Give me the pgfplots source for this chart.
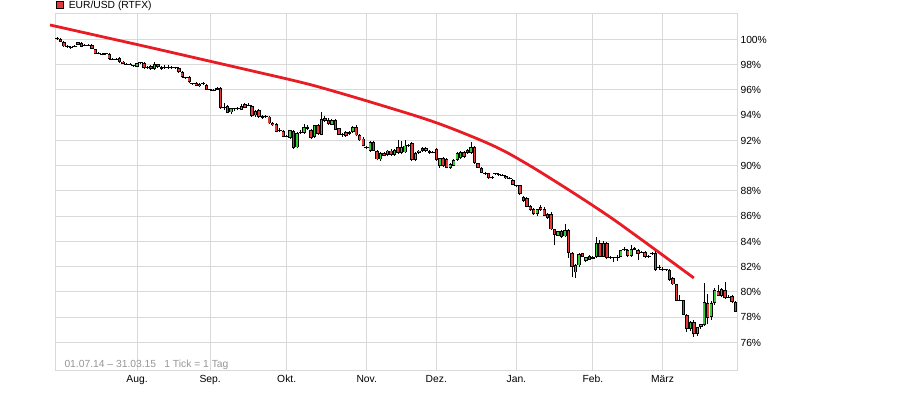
\documentclass[border=0pt]{standalone}
\usepackage{pgfplots}
\pgfplotsset{compat=1.18}
\usepackage{pgfplotstable}
\usepackage{fontspec}
\setmainfont{Liberation Sans}
\definecolor{cred}{RGB}{232,56,56}
\definecolor{cgreen}{RGB}{52,204,52}
\definecolor{tline}{RGB}{232,28,36}
\definecolor{gridc}{RGB}{217,217,217}
\definecolor{foot}{RGB}{150,150,150}

\pgfplotstableread{
i o h l c
0 100.10 100.20 99.98 100.10
1 100.02 100.08 99.80 99.82
2 99.80 99.86 99.40 99.45
3 99.45 99.55 99.35 99.45
4 99.40 99.50 99.28 99.40
5 99.48 99.58 99.40 99.48
6 99.78 99.84 99.58 99.60
7 99.70 99.78 99.38 99.42
8 99.55 99.62 99.46 99.55
9 99.55 99.64 99.47 99.55
10 99.55 99.62 99.22 99.25
11 99.22 99.28 98.82 98.86
12 98.90 98.98 98.82 98.90
13 98.85 98.94 98.75 98.85
14 98.86 98.94 98.78 98.86
15 98.85 98.90 98.40 98.45
16 98.45 98.55 98.38 98.45
17 98.45 98.52 98.36 98.45
18 98.50 98.58 98.15 98.20
19 98.25 98.30 98.02 98.05
20 98.05 98.12 97.98 98.05
21 98.08 98.12 97.95 98.00
22 97.92 98.00 97.82 97.92
23 97.85 98.15 97.80 98.10
24 98.15 98.25 98.05 98.15
25 98.12 98.18 97.68 97.72
26 97.80 97.88 97.70 97.80
27 97.90 97.95 97.60 97.65
28 97.65 98.20 97.60 98.05
29 98.02 98.08 97.78 97.82
30 97.82 97.88 97.62 97.66
31 97.80 97.95 97.65 97.80
32 97.80 97.95 97.65 97.80
33 97.78 97.88 97.68 97.78
34 97.75 97.85 97.65 97.75
35 97.75 97.80 97.38 97.42
36 97.42 97.48 96.95 97.00
37 96.95 97.05 96.88 96.95
38 97.00 97.08 96.58 96.62
39 96.50 96.58 96.42 96.50
40 96.55 96.60 96.28 96.32
41 96.28 96.52 96.22 96.46
42 96.50 96.62 96.40 96.50
43 96.42 96.48 95.98 96.02
44 96.00 96.08 95.92 96.00
45 95.98 96.06 95.90 95.98
46 96.00 96.22 95.96 96.16
47 96.16 96.22 94.52 94.58
48 94.60 94.95 94.40 94.60
49 94.70 94.78 94.15 94.20
50 94.22 94.60 94.10 94.55
51 94.50 94.60 94.35 94.50
52 94.52 94.62 94.40 94.52
53 94.45 94.90 94.40 94.70
54 94.88 94.95 94.55 94.60
55 94.80 95.00 94.70 94.80
56 94.75 94.85 93.90 93.95
57 93.98 94.40 93.85 94.35
58 94.40 94.50 93.80 93.85
59 93.95 94.00 93.72 93.80
60 93.92 94.02 93.80 93.92
61 93.90 93.95 93.30 93.35
62 93.40 93.48 93.15 93.20
63 93.30 93.35 92.65 92.70
64 92.80 92.95 92.68 92.80
65 92.75 92.85 92.25 92.30
66 92.35 92.45 92.25 92.35
67 92.20 92.85 92.10 92.80
68 92.75 92.85 91.35 91.40
69 91.45 92.65 91.40 92.60
70 92.70 92.80 92.55 92.62
71 92.60 93.30 92.55 93.10
72 93.05 93.20 92.85 92.90
73 92.80 92.90 92.15 92.20
74 92.30 93.25 92.20 93.20
75 93.20 93.30 92.45 92.50
76 92.45 94.25 92.40 93.70
77 93.80 93.95 93.50 93.55
78 93.60 93.75 93.25 93.30
79 93.25 93.70 93.20 93.60
80 93.60 93.70 92.80 92.85
81 92.95 93.00 92.40 92.45
82 92.50 92.60 92.30 92.50
83 92.65 92.75 92.30 92.35
84 92.55 92.75 92.45 92.70
85 92.65 93.15 92.60 93.05
86 93.10 93.20 92.35 92.40
87 92.40 92.50 91.95 92.00
88 92.15 92.25 91.55 91.60
89 91.45 91.55 91.35 91.45
90 91.20 91.95 91.10 91.85
91 91.85 91.95 91.15 91.20
92 91.15 91.25 90.45 90.50
93 90.50 91.10 90.40 91.00
94 91.00 91.10 90.75 90.80
95 90.85 91.25 90.75 91.20
96 91.20 91.30 90.80 90.85
97 90.85 91.30 90.80 91.25
98 91.45 92.00 90.95 91.00
99 91.00 91.95 90.95 91.50
100 91.05 92.00 91.00 91.60
101 91.60 91.70 91.50 91.60
102 91.80 91.90 90.40 90.45
103 90.45 91.05 90.35 91.00
104 91.00 91.25 90.95 91.20
105 91.40 91.50 91.10 91.15
106 91.15 91.45 91.10 91.40
107 91.15 91.25 90.95 91.00
108 91.05 91.18 90.98 91.12
109 91.30 91.40 90.40 90.45
110 89.95 90.65 89.85 90.60
111 90.60 90.70 89.90 89.95
112 90.50 90.60 89.80 89.85
113 89.85 90.20 89.75 90.15
114 90.00 90.50 89.95 90.45
115 90.45 91.05 90.40 91.00
116 90.60 91.15 90.55 91.10
117 91.10 91.20 90.65 90.70
118 91.25 91.35 90.95 91.00
119 91.00 91.90 90.95 91.50
120 91.50 91.55 90.15 90.20
121 90.20 90.25 89.80 89.85
122 89.85 89.90 89.40 89.45
123 89.40 89.50 89.30 89.40
124 89.40 89.45 88.95 89.00
125 89.00 89.18 88.95 89.12
126 89.35 89.42 89.25 89.35
127 89.32 89.40 89.22 89.32
128 89.25 89.35 89.15 89.25
129 89.20 89.28 88.98 89.02
130 89.00 89.08 88.92 89.00
131 88.90 88.98 88.45 88.50
132 88.40 88.48 88.35 88.40
133 88.45 88.50 87.70 87.75
134 87.50 87.60 87.15 87.20
135 87.45 87.55 86.70 86.75
136 86.80 86.90 86.45 86.50
137 86.60 86.65 86.10 86.15
138 86.15 86.60 86.05 86.55
139 86.75 86.90 86.45 86.50
140 86.60 86.70 86.00 86.05
141 86.20 86.25 85.80 85.85
142 86.20 86.30 84.90 84.95
143 84.95 85.00 83.70 84.50
144 84.45 84.85 84.40 84.80
145 84.80 84.88 84.30 84.35
146 84.40 85.40 84.35 84.90
147 84.90 84.95 82.70 83.10
148 83.10 83.20 81.15 82.00
149 81.55 82.20 81.10 82.15
150 82.10 83.05 82.00 83.00
151 83.05 83.10 82.75 82.80
152 82.45 82.80 82.35 82.75
153 82.85 82.95 82.50 82.55
154 82.65 82.85 82.60 82.80
155 82.75 84.35 82.70 83.85
156 83.85 84.10 82.75 82.80
157 82.80 84.00 82.75 83.85
158 83.85 83.95 82.65 82.70
159 82.75 82.85 82.65 82.75
160 82.70 82.80 82.35 82.70
161 82.75 82.95 82.45 82.75
162 82.80 83.35 82.75 83.30
163 83.40 83.55 83.25 83.40
164 83.30 83.40 82.80 82.85
165 82.85 83.70 82.80 83.40
166 83.35 83.60 83.30 83.45
167 83.30 83.40 82.50 83.00
168 83.15 83.25 83.05 83.15
169 83.15 83.25 82.70 82.75
170 82.80 82.90 82.70 82.80
171 83.00 83.15 82.95 83.10
172 83.10 83.25 81.70 81.75
173 81.90 82.10 81.75 81.90
174 81.80 81.95 81.70 81.80
175 81.75 81.85 81.68 81.75
176 81.75 81.80 80.90 80.95
177 81.10 81.15 80.55 80.60
178 80.60 80.65 79.25 79.30
179 79.35 79.75 79.25 79.35
180 79.35 79.40 78.15 78.20
181 78.20 78.25 76.85 77.10
182 77.10 77.70 76.90 77.65
183 77.65 77.75 76.45 76.65
184 76.65 77.25 76.55 77.20
185 77.20 77.50 77.10 77.45
186 77.40 80.70 77.30 79.20
187 79.15 79.85 77.50 77.95
188 78.00 79.30 77.80 79.15
189 79.15 80.35 78.95 80.15
190 80.05 80.55 79.65 79.70
191 79.70 80.30 79.60 80.20
192 80.15 80.80 79.45 79.55
193 79.60 79.75 79.50 79.60
194 79.70 79.80 79.15 79.20
195 79.20 79.25 78.40 78.45
}\candles

\begin{document}
\begin{tikzpicture}
\path[use as bounding box] (0,0) rectangle (902bp,394bp);
\begin{axis}[
  at={(55bp,24bp)}, anchor=south west,
  scale only axis, width=682bp, height=356bp,
  xmin=-0.575, xmax=195.4, ymin=73.82, ymax=102.02,
  clip=false,
  axis line style={draw=gridc, line width=1bp},
  grid=major, major grid style={draw=gridc, line width=1bp},
  major tick length=0pt,
  xtick={23,44,66,89,109,132,154,174},
  xticklabels={Aug.,Sep.,Okt.,Nov.,Dez.,Jan.,Feb.,März},
  ytick={76,78,80,82,84,86,88,90,92,94,96,98,100},
  yticklabels={76\%,78\%,80\%,82\%,84\%,86\%,88\%,90\%,92\%,94\%,96\%,98\%,100\%},
  yticklabel pos=right,
  tick label style={font=\fontsize{10.3bp}{12bp}\selectfont, text=black},
  xticklabel style={text height=7.2bp, yshift=-1.8bp},
  legend style={at={(0,1)}, anchor=west, xshift=1bp, yshift=8.9bp,
    draw=none, fill=none, inner sep=0pt, nodes={inner sep=0pt},
    font=\fontsize{10.3bp}{12bp}\selectfont, legend cell align=left},
]
\addlegendimage{legend image code/.code={\draw[black, line width=0.8bp, fill=cred] (0bp,-3.6bp) rectangle (7.2bp,3.6bp); \path[draw=none, fill=none] (7.2bp,0bp) rectangle (12.2bp,0.1bp);}}
\addlegendentry{EUR/USD (RTFX)}

% trend line
\addplot[tline, line width=2.8bp, smooth, tension=0.6, forget plot] coordinates {
(-2.01,101.15) (12.36,100.26) (26.72,99.37) (41.09,98.46) (55.46,97.55) (69.83,96.63)
(78.45,95.99) (92.82,94.82) (107.18,93.58) (118.1,92.44) (127.3,91.33) (135.3,90.10)
(142.5,88.88) (150.3,87.51) (158.9,85.94) (166.1,84.52) (174.7,82.79) (183.0,81.11)};

% wicks
\addplot[draw=none, mark=none, forget plot,
  error bars/.cd, y dir=plus, y explicit, error mark=none,
  error bar style={draw=black, line width=1bp}]
  table[x=i, y=l, y error plus expr={\thisrow{h}-\thisrow{l}}] {\candles};

% red bodies
\addplot[draw=none, mark=none, forget plot,
  restrict expr to domain={\thisrow{o}-\thisrow{c}}{0.001:100},
  error bars/.cd, y dir=plus, y explicit, error mark=none,
  error bar style={draw=black, line width=3.4bp}]
  table[x=i, y=c, y error plus expr={\thisrow{o}-\thisrow{c}}] {\candles};
\addplot[draw=none, mark=none, forget plot,
  restrict expr to domain={\thisrow{o}-\thisrow{c}}{0.18:100},
  error bars/.cd, y dir=plus, y explicit, error mark=none,
  error bar style={draw=cred, line width=1.6bp, shorten <=0.9bp, shorten >=0.9bp}]
  table[x=i, y=c, y error plus expr={\thisrow{o}-\thisrow{c}}] {\candles};

% green bodies
\addplot[draw=none, mark=none, forget plot,
  restrict expr to domain={\thisrow{c}-\thisrow{o}}{0.001:100},
  error bars/.cd, y dir=plus, y explicit, error mark=none,
  error bar style={draw=black, line width=3.4bp}]
  table[x=i, y=o, y error plus expr={\thisrow{c}-\thisrow{o}}] {\candles};
\addplot[draw=none, mark=none, forget plot,
  restrict expr to domain={\thisrow{c}-\thisrow{o}}{0.18:100},
  error bars/.cd, y dir=plus, y explicit, error mark=none,
  error bar style={draw=cgreen, line width=1.6bp, shorten <=0.9bp, shorten >=0.9bp}]
  table[x=i, y=o, y error plus expr={\thisrow{c}-\thisrow{o}}] {\candles};

% dojis
\addplot[only marks, mark=-, mark size=2.3bp, mark options={draw=black, line width=1bp}, forget plot,
  restrict expr to domain={\thisrow{o}-\thisrow{c}}{-0.0005:0.0005}]
  table[x=i, y=c] {\candles};

\node[anchor=base west, xshift=6bp, yshift=2.7bp, font=\fontsize{10.3bp}{12bp}\selectfont, text=foot]
  at (rel axis cs:0,0) {01.07.14 – 31.03.15\hspace{0.8em}1 Tick = 1 Tag};
\end{axis}
\end{tikzpicture}
\end{document}
